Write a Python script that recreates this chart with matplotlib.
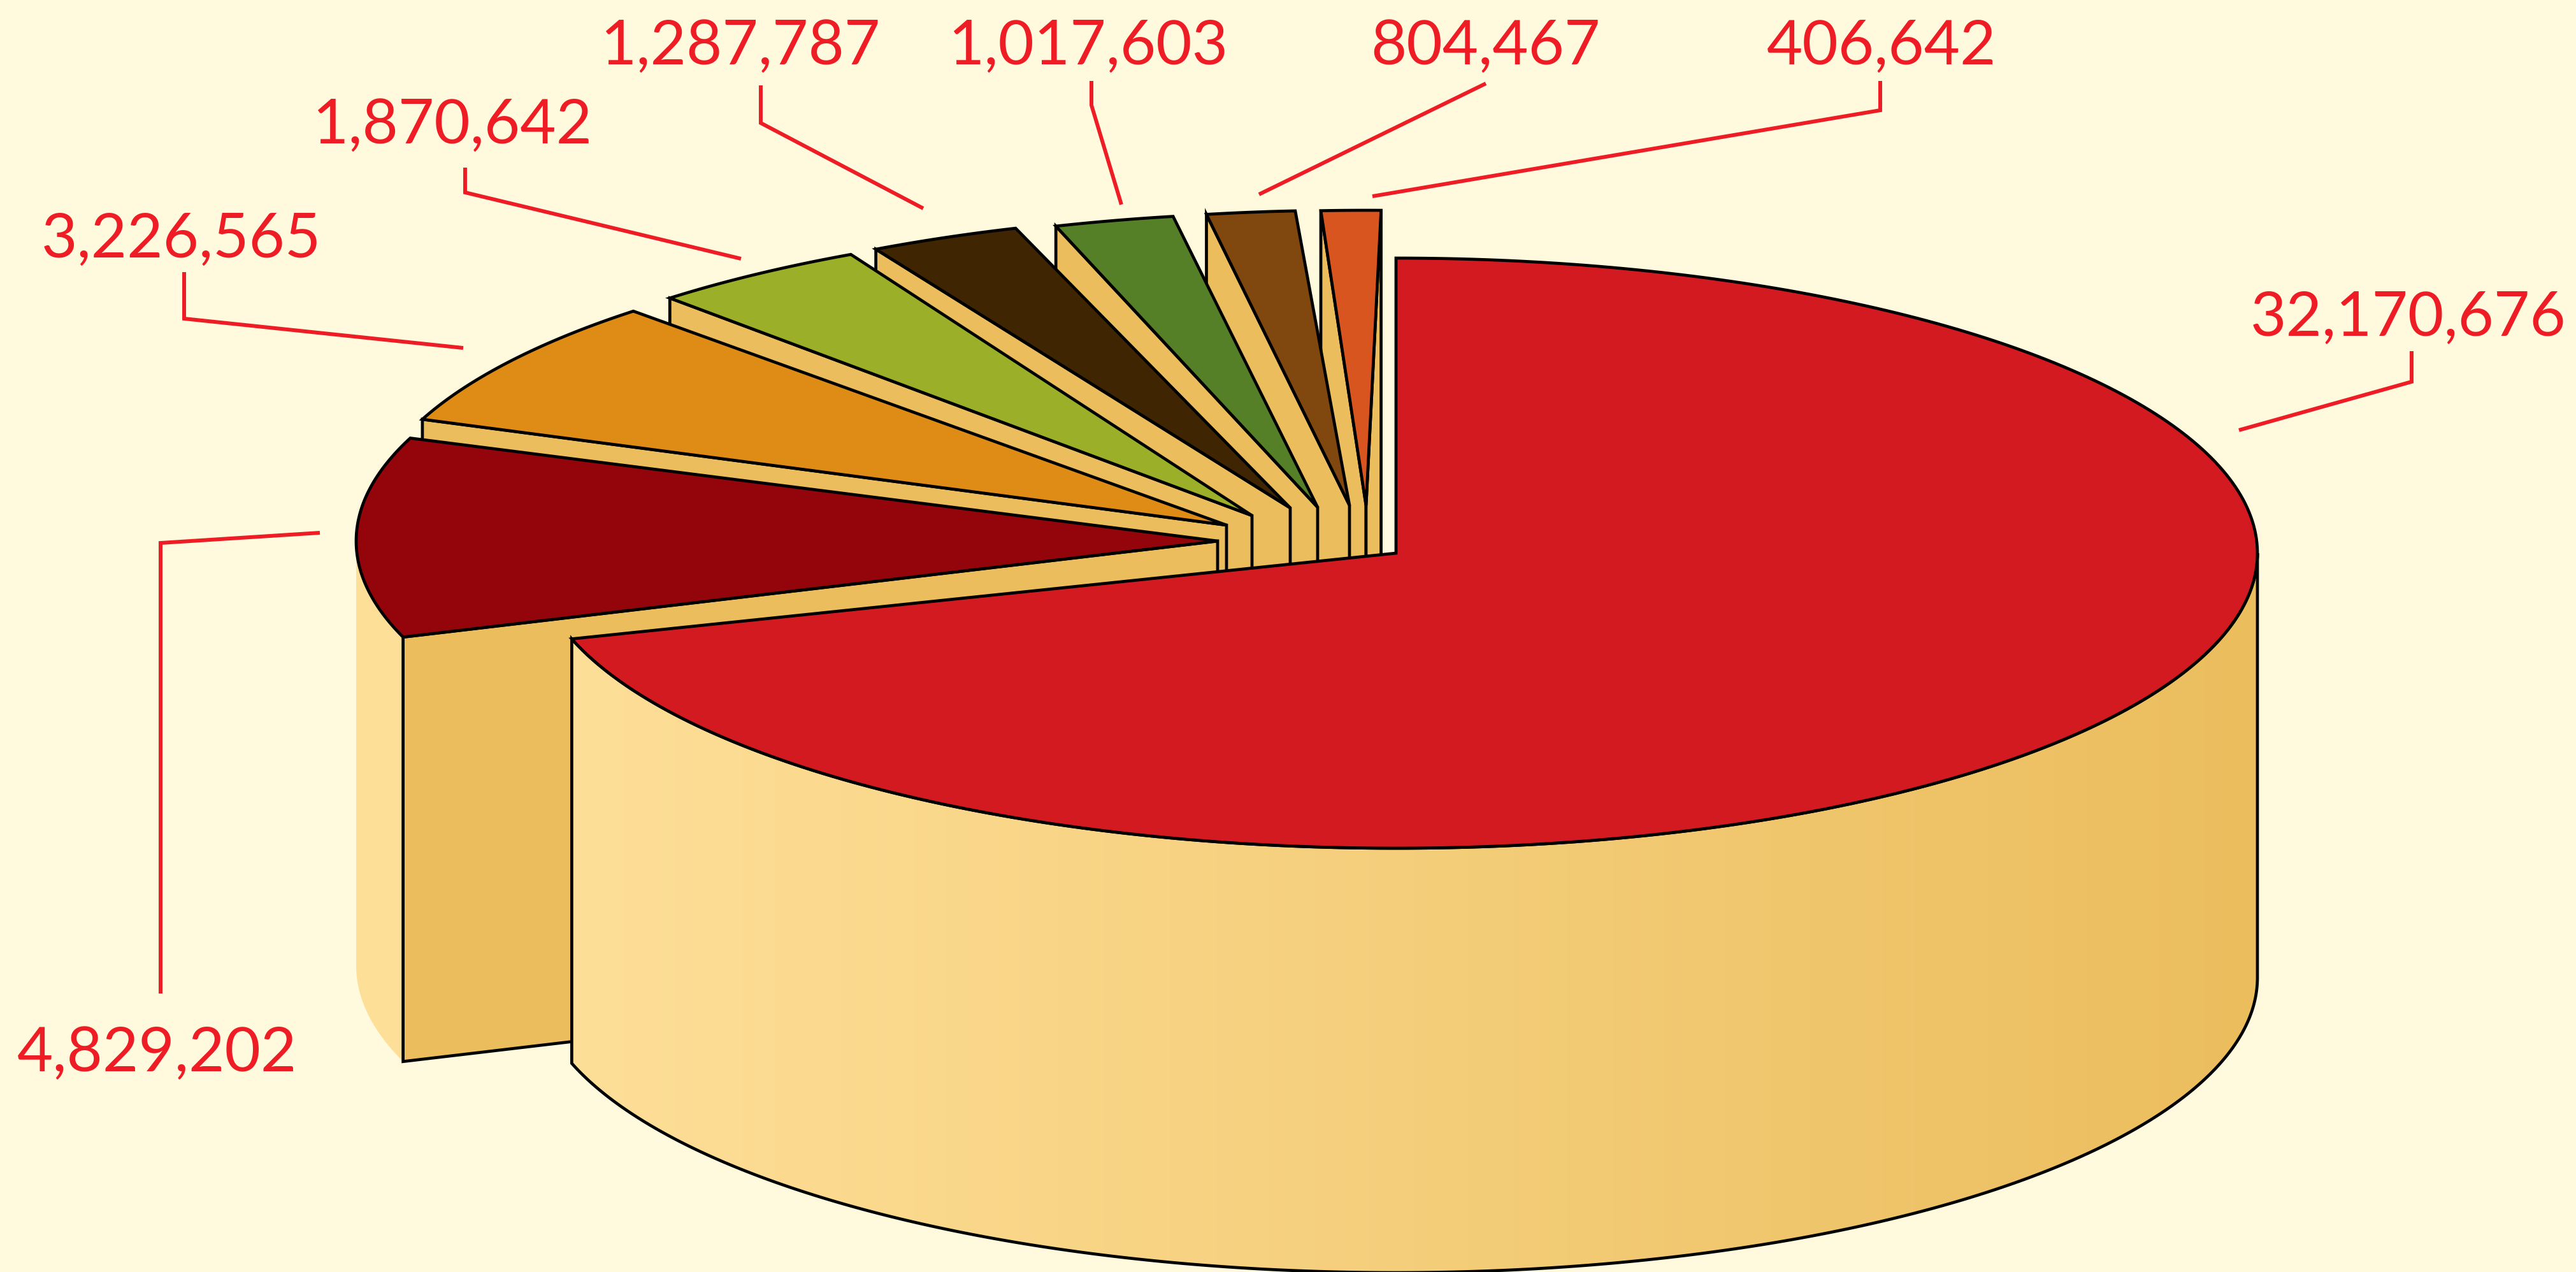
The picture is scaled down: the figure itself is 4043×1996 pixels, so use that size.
"""
Pizza 3D explodida, desenhada com poligonos em eixos na escala de pixels.
"""
import numpy as np
import matplotlib
matplotlib.use("Agg")
import matplotlib.pyplot as plt
from matplotlib.colors import LinearSegmentedColormap
from matplotlib.patches import Polygon

# ============================ DADOS ============================
# sentido horario a partir do topo
VALORES = [32170676, 4829202, 3226565, 1870642, 1287787, 1017603, 804467, 406642]
CORES   = ["#D31A20", "#93050A", "#DE8C16", "#9BB028", "#3F2502", "#558027", "#80470F", "#D95520"]

# ============================ LAYOUT ============================
W, H = 4043, 1996
CX, CY, RX, RY, ALTURA = 2191, 868, 1352, 463, 666
EXPLODE_X = [0, -280, -266, -226, -166, -123, -73, -47]
EXPLODE_Y = [0, -19, -44, -59, -71, -72, -75, -75]
# correcao fina (graus) das duas bordas de cada fatia
AJUSTE_DIR = [0, 1.6, 1, 0, 1, 0.1, 0.4, -1]
AJUSTE_ESQ = [0.8, 2.9, 1, 0, 1, 0.1, 0, -0.2]

LABEL_X = [3780, 247, 284, 710, 1162, 1708, 2332, 2953]
LABEL_Y = [527, 1681, 404, 225, 101, 101, 101, 101]
LIDER_X = [[3785, 3785, 3514], [252, 252, 502], [289, 289, 727], [730, 730, 1163],
           [1194, 1194, 1449], [1713, 1713, 1760], [2332, 2332, 1976], [2951, 2951, 2154]]
LIDER_Y = [[551, 599, 675], [1559, 852, 836], [427, 500, 546], [263, 302, 406],
           [134, 193, 327], [127, 165, 321], [131, 131, 305], [127, 173, 308]]

FUNDO, PAREDE, PAREDE_CLARA = "#FFF9DE", "#EBBD5D", "#FEDF98"
VERMELHO = "#EE1C25"
LW_PRETO, LW_LIDER = 3.4, 4.3

plt.rcParams["font.family"] = ["Lato", "DejaVu Sans"]
fig = plt.figure(figsize=(W / 100, H / 100), dpi=100, facecolor=FUNDO)
ax = fig.add_axes([0, 0, 1, 1])
ax.set_facecolor(FUNDO)
ax.axis("off")


def ponto(x0, y0, ang):
    t = np.radians(ang)
    return np.column_stack([x0 + RX * np.cos(t), y0 - RY * np.sin(t)])


def poligono(pts, cor, z, borda="black"):
    ax.add_patch(Polygon(pts, closed=True, facecolor=cor, edgecolor=borda, lw=LW_PRETO if borda != "none" else 0,
                         joinstyle="miter", zorder=z))


# angulos anti-horarios a partir do topo, fatia menor primeiro (ordem de pintura: fundo -> frente)
fracoes = np.array(VALORES[::-1]) / sum(VALORES) * 360
limites = 90 + np.concatenate([[0], np.cumsum(fracoes)])
z = 1
for k, i in enumerate(range(len(VALORES) - 1, -1, -1)):
    # na fatia principal o limite final da volta completa fica na borda direita
    if i == 0:
        a0, a1 = limites[k] + AJUSTE_ESQ[i], limites[k + 1]
    else:
        a0, a1 = limites[k] + AJUSTE_DIR[i], limites[k + 1] + AJUSTE_ESQ[i]
    x0, y0 = CX + EXPLODE_X[i], CY + EXPLODE_Y[i]
    apice = np.array([[x0, y0]])
    baixo = np.array([[0, ALTURA]])
    arco = ponto(x0, y0, np.linspace(a0, a1, 300))

    if i == 0:
        # parede externa da fatia principal, com degrade
        topo_ext = ponto(x0, y0, np.linspace(a0, 360, 300))
        contorno = np.vstack([topo_ext, (topo_ext + baixo)[::-1]])
        grad = LinearSegmentedColormap.from_list("parede", [PAREDE_CLARA, PAREDE])
        img = ax.imshow(np.linspace(0, 1, 512).reshape(1, -1), cmap=grad, aspect="auto", zorder=z,
                        extent=(contorno[:, 0].min(), contorno[:, 0].max(), contorno[:, 1].max(), contorno[:, 1].min()))
        img.set_clip_path(Polygon(contorno, closed=True, transform=ax.transData))
        poligono(contorno, "none", z + 1)
        z += 2
    else:
        # parede externa visivel (so a metade da frente)
        if a1 > 180:
            topo_ext = ponto(x0, y0, np.linspace(180, a1, 100))
            poligono(np.vstack([topo_ext, (topo_ext + baixo)[::-1]]), PAREDE_CLARA, z, borda="none")
            z += 1
        ponta_esq = arco[[-1]]
        poligono(np.vstack([apice, ponta_esq, ponta_esq + baixo, apice + baixo]), PAREDE, z)
        z += 1
        ponta_dir = arco[[0]]
        if ponta_dir[0, 0] > x0:
            poligono(np.vstack([apice, ponta_dir, ponta_dir + baixo, apice + baixo]), PAREDE, z)
            z += 1

    poligono(np.vstack([apice, arco]), CORES[i], z)
    z += 1

ax.set_xlim(0, W)
ax.set_ylim(H, 0)

# ============================ ROTULOS ============================
for v, lx, ly, px, py in zip(VALORES, LABEL_X, LABEL_Y, LIDER_X, LIDER_Y):
    ax.plot(px, py, color=VERMELHO, lw=LW_LIDER, solid_joinstyle="miter", solid_capstyle="butt", zorder=z)
    ax.text(lx, ly, f"{v:,}", color=VERMELHO, fontsize=70, ha="center", va="baseline", zorder=z + 1)

fig.savefig("out.png", dpi=100, facecolor=FUNDO)
